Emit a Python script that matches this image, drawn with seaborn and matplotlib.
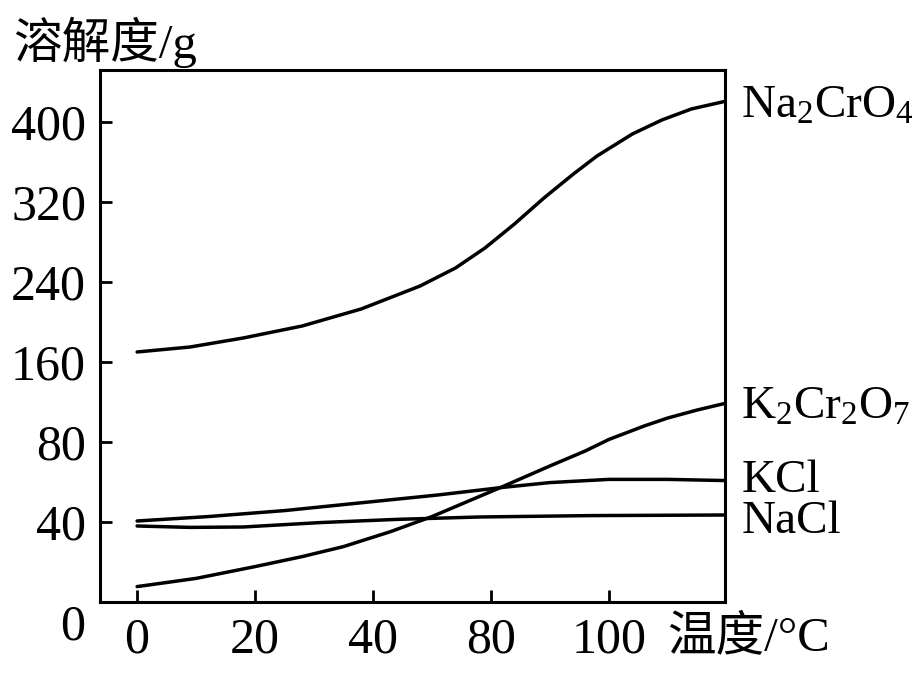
import numpy as np
import pandas as pd
import matplotlib
matplotlib.use("Agg")
import matplotlib.pyplot as plt
import seaborn as sns

# solubility curves (x in axis position units)
na2cro4_t = [0, 9, 18, 28, 38, 48, 54, 59, 64, 69, 74, 78, 84, 89, 94, 100]
na2cro4_s = [170, 175, 184, 196, 213, 236, 254, 274, 298, 324, 348, 366, 388, 402, 413, 421]

k2cr2o7_t = [0, 10, 20, 28, 35, 43, 50, 56, 62, 70, 76, 80, 86, 90, 95, 100]
k2cr2o7_s = [7.7, 11.8, 17.7, 22.7, 27.7, 35.2, 42.7, 50.2, 57.7, 68, 75.5, 82.5, 96, 104, 112, 119]

kcl_t = [0, 12, 25, 40, 51, 62, 70, 80, 90, 100]
kcl_s = [40.5, 42.7, 45.7, 50.2, 53.5, 57.3, 59.7, 61.3, 61.3, 60.7]

nacl_t = [0, 9, 18, 31, 44, 58, 77, 100]
nacl_s = [38, 37.3, 37.5, 39.7, 41.3, 42.5, 43.2, 43.5]

salts = ["Na$_2$CrO$_4$", "K$_2$Cr$_2$O$_7$", "KCl", "NaCl"]
label_y = [416, 115, 60.5, 40]

x_ticks = [0, 20, 40, 60, 80]
x_tick_labels = ["0", "20", "40", "80", "100"]
y_ticks = [40, 80, 160, 240, 320, 400]

sns.set_theme(style="ticks")
plt.rcParams["font.family"] = ["Liberation Serif", "Noto Sans CJK SC", "DejaVu Sans"]
plt.rcParams["mathtext.fontset"] = "custom"
plt.rcParams["mathtext.rm"] = "Liberation Serif"
plt.rcParams["mathtext.it"] = "Liberation Serif:italic"
plt.rcParams["text.color"] = "black"

frames = []
for name, t, s in zip(salts,
                      [na2cro4_t, k2cr2o7_t, kcl_t, nacl_t],
                      [na2cro4_s, k2cr2o7_s, kcl_s, nacl_s]):
    frames.append(pd.DataFrame({"temp": t, "sol": s, "salt": name}))
df = pd.concat(frames, ignore_index=True)


# y axis is stretched below 80 (0-80 takes two slots, then 80 per slot)
def fwd(v):
    v = np.asarray(v, dtype=float)
    return np.where(v <= 80, v / 40, 1 + v / 80)


def inv(s):
    s = np.asarray(s, dtype=float)
    return np.where(s <= 2, s * 40, 80 * (s - 1))


fig = plt.figure(figsize=(9.24, 6.78), dpi=100)
ax = fig.add_axes([0.1082, 0.1121, 0.6764, 0.7847])

sns.lineplot(data=df, x="temp", y="sol", hue="salt", palette=["black"] * 4,
             estimator=None, sort=True, legend=False, linewidth=2.5, ax=ax)

ax.set_yscale("function", functions=(fwd, inv))
ax.set_xlim(-6.3, 99.7)
ax.set_ylim(0, 452)
ax.set_xticks(x_ticks)
ax.set_xticklabels(x_tick_labels)
ax.set_yticks(y_ticks)
ax.set_yticklabels([str(v) for v in y_ticks])
ax.minorticks_off()
ax.set_xlabel("")
ax.set_ylabel("")

ax.tick_params(axis="both", direction="in", length=8.6, width=2.0,
               labelsize=36, color="black", labelcolor="black")
ax.tick_params(axis="y", pad=10)
ax.tick_params(axis="x", pad=11)
for sp in ax.spines.values():
    sp.set_linewidth(2.2)
    sp.set_color("black")

for name, yv in zip(salts, label_y):
    ax.text(102.5, yv, name, fontsize=34, color="black",
            ha="left", va="center", clip_on=False)

fig.text(0.014, 0.938, "溶解度/g", fontsize=35, color="black", ha="left", va="center")
fig.text(0.722, 0.059, "温度/°C", fontsize=35, color="black", ha="left", va="center")
fig.text(0.079, 0.075, "0", fontsize=36, color="black", ha="center", va="center")

fig.savefig("out.png", dpi=100, facecolor="white")
